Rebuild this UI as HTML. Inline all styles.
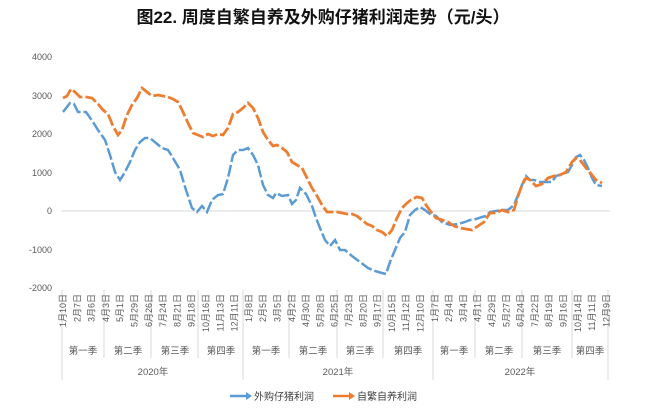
<!DOCTYPE html>
<html><head><meta charset="utf-8"><style>
html,body{margin:0;padding:0;background:#fff;}
svg{display:block;font-family:"Liberation Sans","Noto Sans CJK SC",sans-serif;}
</style></head><body>
<svg width="646" height="416" viewBox="0 0 646 416">
<text x="323" y="23" text-anchor="middle" font-size="17" font-weight="bold" fill="#111">图22. 周度自繁自养及外购仔猪利润走势（元/头）</text>
<g font-size="9" fill="#595959" text-anchor="end">
<text x="52" y="60">4000</text><text x="52" y="99">3000</text><text x="52" y="137">2000</text>
<text x="52" y="176">1000</text><text x="52" y="214">0</text><text x="52" y="253">-1000</text><text x="52" y="291">-2000</text>
</g>
<line x1="61" y1="211" x2="610" y2="211" stroke="#d9d9d9" stroke-width="1"/>
<g stroke="#d9d9d9" stroke-width="1">
<line x1="62" y1="290" x2="62" y2="380"/><line x1="104" y1="290" x2="104" y2="358"/><line x1="151" y1="290" x2="151" y2="358"/>
<line x1="198" y1="290" x2="198" y2="358"/><line x1="243" y1="290" x2="243" y2="380"/><line x1="289" y1="290" x2="289" y2="358"/>
<line x1="337" y1="290" x2="337" y2="358"/><line x1="383" y1="290" x2="383" y2="358"/><line x1="433" y1="290" x2="433" y2="380"/>
<line x1="475" y1="290" x2="475" y2="358"/><line x1="522" y1="290" x2="522" y2="358"/><line x1="572" y1="290" x2="572" y2="358"/>
<line x1="608" y1="290" x2="608" y2="380"/>
</g>
<g font-size="9" fill="#595959" id="xl"></g>
<g font-size="9.5" fill="#595959" text-anchor="middle">
<text x="83" y="354">第一季</text><text x="128" y="354">第二季</text><text x="175" y="354">第三季</text><text x="221" y="354">第四季</text>
<text x="266" y="354">第一季</text><text x="313" y="354">第二季</text><text x="360" y="354">第三季</text><text x="408" y="354">第四季</text>
<text x="454" y="354">第一季</text><text x="499" y="354">第二季</text><text x="547" y="354">第三季</text><text x="590" y="354">第四季</text>
<text x="153" y="375">2020年</text><text x="338" y="375">2021年</text><text x="520" y="375">2022年</text>
</g>
<polyline fill="none" stroke="#5b9bd5" stroke-width="2.5" stroke-dasharray="12,3" points="63,112 70,103 74,104 78,112 86,112 93,122 98,130 105,140 110,155 115,172 120,180 125,172 130,162 135,150 140,142 145,138 150,138 156,143 162,148 168,150 173,158 180,170 186,190 192,208 197,212 202,206 207,212 212,200 218,195 223,194 228,178 233,155 238,150 243,150 248,148 253,155 258,165 263,185 268,195 273,198 276,193 282,196 288,195 292,204 296,200 300,188 306,194 312,206 316,218 320,228 325,240 330,246 335,240 340,250 345,250 352,256 360,262 368,268 375,271 382,273 386,274 390,262 395,250 400,238 405,232 410,215 415,210 420,207 425,210 430,214 436,216 442,222 450,225 458,224 465,222 470,220 476,219 482,217 486,216 490,212 496,211 502,210 508,210 514,205 518,195 522,185 526,176 530,180 534,180 540,182 546,182 552,182 556,176 562,174 568,172 572,165 576,157 580,155 584,160 588,168 592,178 596,185 602,186"/>
<polyline fill="none" stroke="#ed7d31" stroke-width="2.8" stroke-dasharray="12,3" points="63,98 67,96 71,89 75,92 80,97 86,97 92,98 98,104 103,110 108,114 113,126 118,135 122,130 127,115 132,105 137,98 142,88 147,92 152,96 158,95 163,96 168,97 173,99 178,102 183,112 188,123 193,133 198,135 203,137 208,134 213,136 218,134 223,135 228,128 233,114 238,112 243,108 248,103 253,108 258,118 263,132 268,140 273,146 277,145 282,148 287,152 292,162 297,165 302,168 307,178 312,188 317,196 322,205 327,212 332,212 337,212 342,213 347,214 352,214 357,216 362,220 367,224 372,226 377,230 382,232 387,236 392,230 397,218 402,208 407,203 412,199 417,197 422,198 426,205 431,212 436,218 442,220 448,222 454,226 460,228 466,229 472,230 478,226 484,222 490,213 496,213 502,210 508,212 514,210 518,196 522,185 526,178 530,180 536,186 542,184 548,178 554,176 560,175 566,172 572,162 576,158 580,160 586,168 592,175 596,180 602,183"/>
<line x1="230" y1="396" x2="248" y2="396" stroke="#5b9bd5" stroke-width="2.5"/>
<polygon points="246,392 252,396 246,400" fill="#5b9bd5"/>
<text x="254" y="400" font-size="10" fill="#404040">外购仔猪利润</text>
<line x1="333" y1="396" x2="351" y2="396" stroke="#ed7d31" stroke-width="2.5"/>
<polygon points="349,392 355,396 349,400" fill="#ed7d31"/>
<text x="357" y="400" font-size="10" fill="#404040">自繁自养利润</text>
</svg>
<script>
var L=["1月10日","2月7日","3月6日","4月3日","5月1日","5月29日","6月26日","7月24日","8月21日","9月18日","10月16日","11月13日","12月11日","1月8日","2月5日","3月5日","4月2日","4月30日","5月28日","6月25日","7月23日","8月20日","9月17日","10月15日","11月12日","12月10日","1月7日","2月4日","3月4日","4月1日","4月29日","5月27日","6月24日","7月22日","8月19日","9月16日","10月14日","11月11日","12月9日"];
var g=document.getElementById("xl"),ns="http://www.w3.org/2000/svg";
L.forEach(function(s,i){var x=66+i*14.3;var t=document.createElementNS(ns,"text");t.setAttribute("transform","translate("+x+",294) rotate(-90)");t.setAttribute("text-anchor","end");t.textContent=s;g.appendChild(t);});
</script>
</body></html>
